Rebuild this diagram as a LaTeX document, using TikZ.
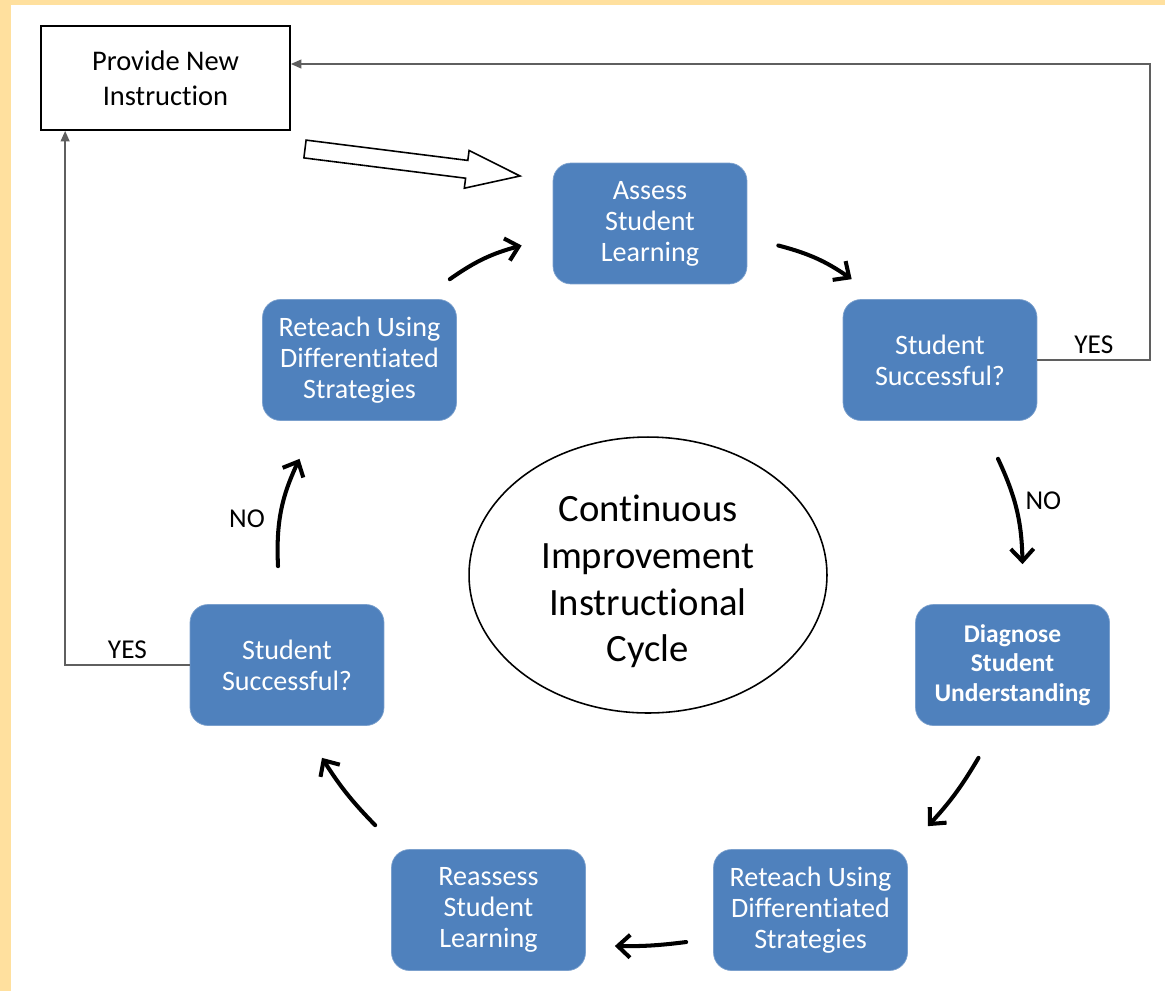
\documentclass[tikz,border=0pt]{standalone}
\usepackage{fontspec}
\setmainfont{Carlito}[Ligatures=NoCommon]
\usetikzlibrary{arrows.meta, shapes.geometric, positioning}

\definecolor{boxblue}{HTML}{4F81BD}
\definecolor{pagebg}{HTML}{FFE09E}
\definecolor{linegray}{HTML}{5F5F5F}

\begin{document}
\begin{tikzpicture}[
    x=0.02cm, y=-0.02cm,
    stepbox/.style={rectangle, rounded corners=0.36cm, fill=boxblue, draw=boxblue!75!white, text=white, minimum width=3.88cm, minimum height=2.42cm, align=center, font=\fontsize{16}{17.6}\selectfont},
    newbox/.style={rectangle, draw=black, line width=1pt, minimum width=4.98cm, minimum height=2.08cm, align=center, font=\fontsize{16.2}{20}\selectfont},
    hub/.style={ellipse, draw=black, line width=0.9pt, inner sep=0pt, minimum width=7.16cm, minimum height=5.52cm, align=center, font=\fontsize{22}{26.6}\selectfont},
    flow/.style={line width=2.3pt, line cap=round, -{Straight Barb[length=7pt, width=13pt]}},
    yesline/.style={draw=linegray, line width=1pt, -{Triangle[length=6pt, width=5pt]}},
    tag/.style={font=\fontsize{15.5}{17}\selectfont}
]

   % Page
   \useasboundingbox (0,0) rectangle (1165,991);
   \fill[pagebg] (0,0) rectangle (1165,991);
   \fill[white] (11,5) rectangle (1165,991);

   % Boxes
   \node[newbox] (provide) at (165.5,78) {Provide New\\Instruction};
   \node[stepbox] (assess) at (650,223.5) {Assess\\Student\\Learning};
   \node[stepbox] (ssR) at (940,360) {Student\\Successful?};
   \node[stepbox, font=\bfseries\fontsize{14.5}{16.8}\selectfont] (diagnose) at (1012.5,665) {Diagnose\\Student\\Understanding};
   \node[stepbox] (reteachB) at (810.5,910) {Reteach Using\\Differentiated\\Strategies};
   \node[stepbox] (reassess) at (488.5,910) {Reassess\\Student\\Learning};
   \node[stepbox] (ssL) at (287,665) {Student\\Successful?};
   \node[stepbox] (reteachA) at (359.5,360) {Reteach Using\\Differentiated\\Strategies};
   \node[hub] (hub) at (648,575) {\rule{0pt}{22.5pt}Continuous\\Improvement\\Instructional\\Cycle};

   % Cycle arrows
   \path[flow]
   ([shift={(-7,-20)}]reteachA.north east) edge[bend left=10] ([shift={(-31,22)}]assess.west)
   ([shift={(31,22)}]assess.east) edge[bend left=10] ([shift={(9,-20)}]ssR.north west)
   ([shift={(58,38)}]ssR.south) edge[bend left=12] node[tag, right=2pt, pos=0.4] {NO} ([shift={(10,-40)}]diagnose.north)
   ([shift={(-34,32)}]diagnose.south) edge[bend left=6] ([shift={(20,-23)}]reteachB.north east)
   ([shift={(-27,32)}]reteachB.west) edge[bend left=4] ([shift={(29,36)}]reassess.east)
   ([shift={(-16,-24)}]reassess.north west) edge[bend left=6] ([shift={(35,32)}]ssL.south)
   ([shift={(-9,-38)}]ssL.north) edge[bend left=14] node[tag, left=4pt, pos=0.42] {NO} ([shift={(-60,38)}]reteachA.south);

   % YES branches
   \draw[yesline] (ssR.east) -- node[tag, above] {YES} ++(113,0) |- ([yshift=0.28cm]provide.east);
   \draw[yesline] (ssL.west) -| node[tag, above, pos=0.25] {YES} ([xshift=0.5cm]provide.south west);

   % Open arrow into the cycle
   \draw[line width=0.9pt, fill=white] (306.1,140.1) -- (467.8,160.4) -- (469.1,150.5) -- (520,176)
      -- (464.3,188.2) -- (465.6,178.2) -- (303.9,157.9) -- cycle;
\end{tikzpicture}
\end{document}
